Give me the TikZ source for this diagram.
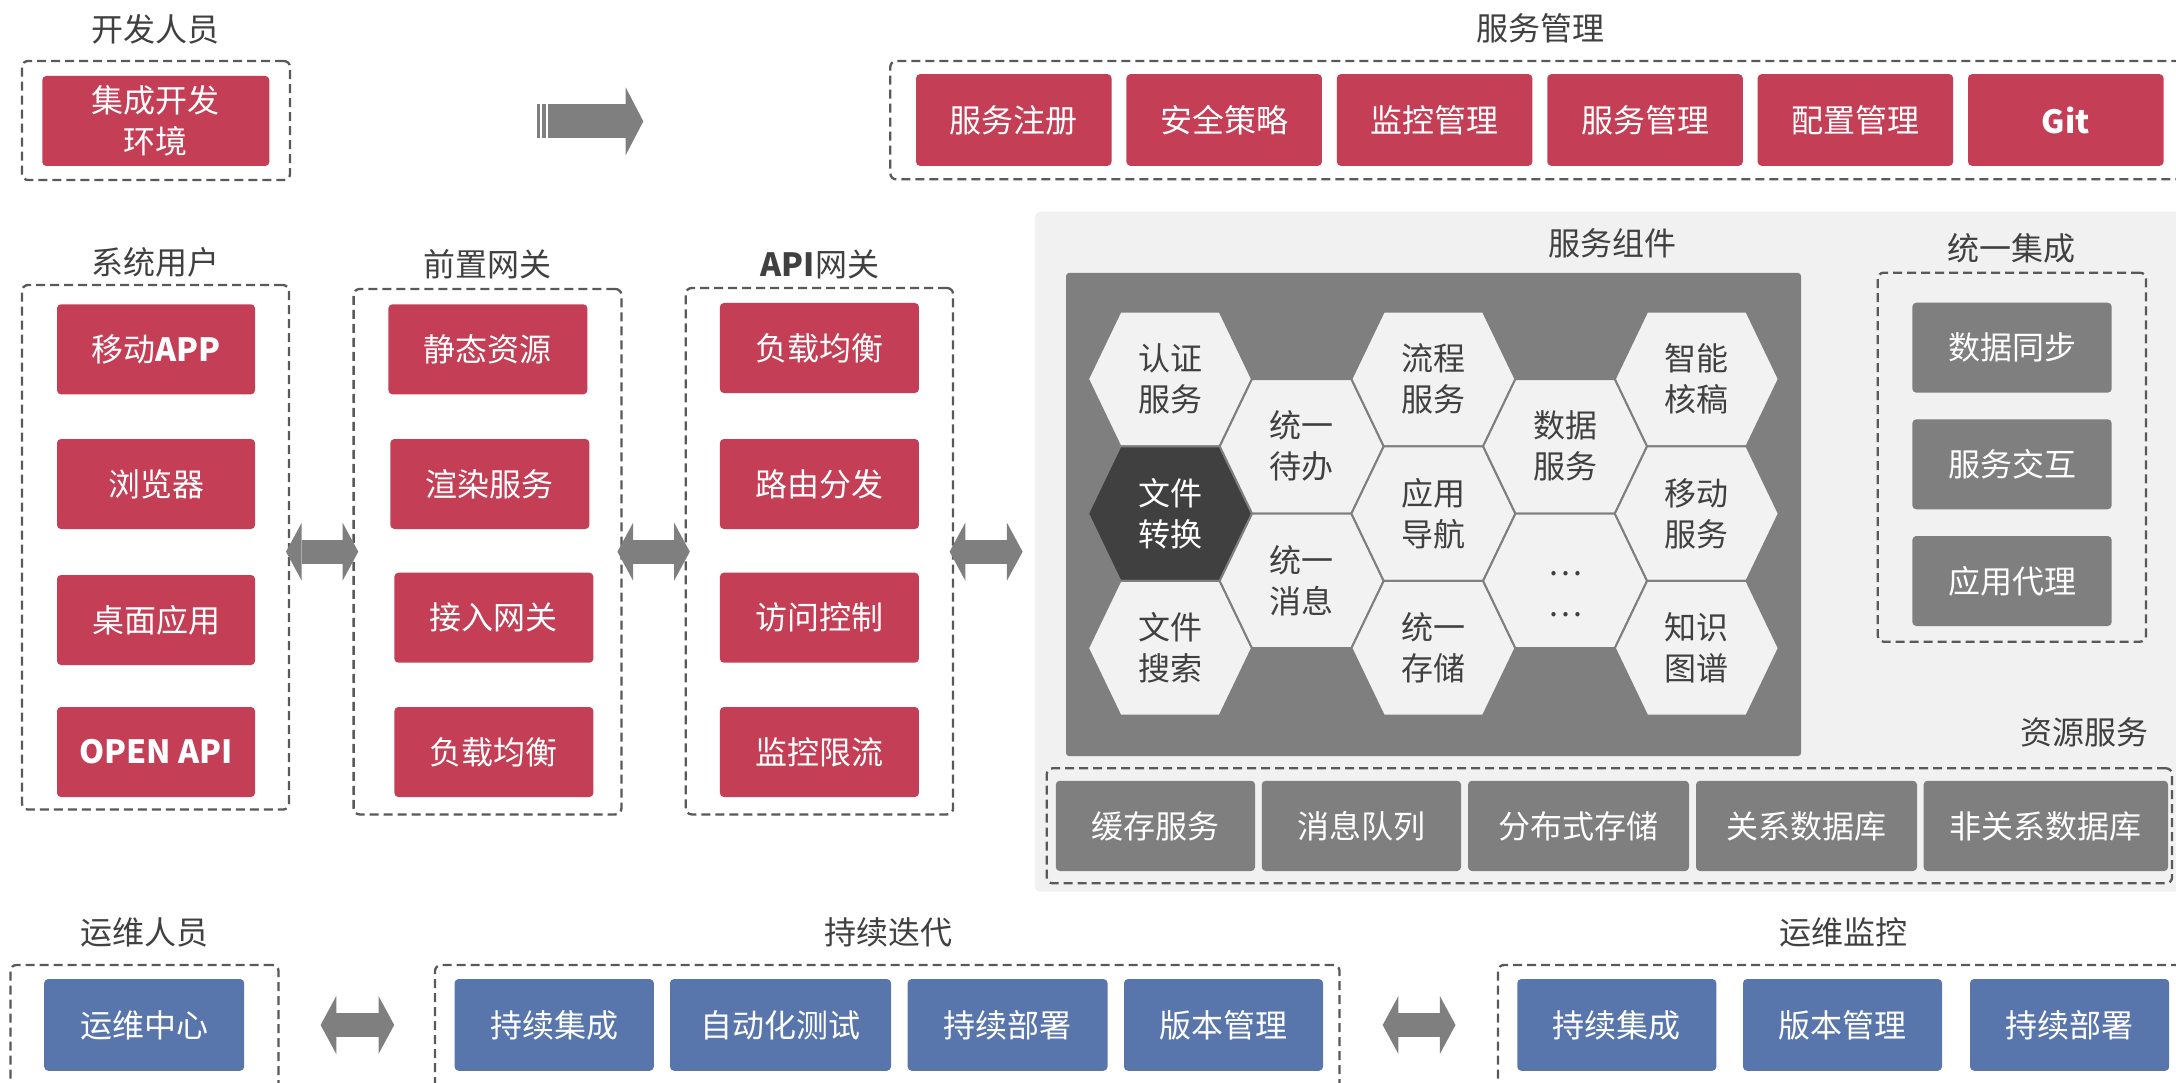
\documentclass[tikz,border=0pt]{standalone}
\usepackage{fontspec}
\setmainfont{Noto Sans CJK SC}
\usepackage{tikz}
\usetikzlibrary{positioning, arrows.meta}

\definecolor{boxred}{HTML}{C43E56}
\definecolor{boxblue}{HTML}{5976AC}
\definecolor{boxgray}{HTML}{7F7F7F}
\definecolor{hexdark}{HTML}{404040}
\definecolor{hexlight}{HTML}{F2F2F2}
\definecolor{panelbg}{HTML}{F1F1F1}
\definecolor{dashgray}{HTML}{595959}
\definecolor{titlegray}{HTML}{404040}

\tikzset{every node/.style={font=\fontsize{32}{41}\selectfont, inner sep=0pt, outer sep=0pt},
         grptitle/.style={text=titlegray},
         group/.style={draw=dashgray, line width=2.3pt, dash pattern=on 9pt off 5pt, rounded corners=6pt},
         redbox/.style={fill=boxred, text=white, rounded corners=4pt, align=center, minimum height=90pt},
         bluebox/.style={fill=boxblue, text=white, rounded corners=4pt, minimum height=91.7pt},
         graybox/.style={fill=boxgray, text=white, rounded corners=4pt, minimum height=90pt},
         hextext/.style={text=titlegray, align=center},
         dblarrow/.style={draw=boxgray, line width=24pt,
           {Triangle[length=15.7pt, width=58pt, line width=0pt]}-{Triangle[length=15.7pt, width=58pt, line width=0pt]}},
         onearrow/.style={draw=boxgray, line width=34pt,
           -{Triangle[length=17.6pt, width=67.7pt, line width=0pt]}}}

% one hexagon of the service grid, centred at (#1,#2)
\newcommand{\hexcell}[3]{%
  \filldraw[fill=#3, draw=boxgray, line width=2pt]
    (#1-82,#2) -- (#1-49.7,#2-67.3) -- (#1+49.7,#2-67.3) -- (#1+82,#2)
    -- (#1+49.7,#2+67.3) -- (#1-49.7,#2+67.3) -- cycle;}

\begin{document}
\begin{tikzpicture}[x=1pt, y=-1pt]

        \useasboundingbox (0,0) rectangle (2176,1083);
        \clip (0,0) rectangle (2176,1083);
        \fill[white] (0,0) rectangle (2176,1083);

        % Panels
        \fill[panelbg, rounded corners=6pt] (1035,211.7) rectangle (2200,891.7);
        \fill[boxgray, rounded corners=3pt] (1066,273) rectangle (1801,756);

        % Hexagons
        \hexcell{1170}{379}{hexlight}
        \hexcell{1170}{513.6}{hexdark}
        \hexcell{1170}{648.2}{hexlight}
        \hexcell{1301.7}{446.3}{hexlight}
        \hexcell{1301.7}{580.9}{hexlight}
        \hexcell{1433.4}{379}{hexlight}
        \hexcell{1433.4}{513.6}{hexlight}
        \hexcell{1433.4}{648.2}{hexlight}
        \hexcell{1565.1}{446.3}{hexlight}
        \hexcell{1565.1}{580.9}{hexlight}
        \hexcell{1696.8}{379}{hexlight}
        \hexcell{1696.8}{513.6}{hexlight}
        \hexcell{1696.8}{648.2}{hexlight}

        \node[hextext] (renzheng) at (1170,379) {认证\\服务};
        \node[hextext, text=white] (zhuanhuan) at (1170,513.6) {文件\\转换};
        \node[hextext] (sousuo) at (1170,648.2) {文件\\搜索};
        \node[hextext] (daiban) at (1301.7,446.3) {统一\\待办};
        \node[hextext] (xiaoxi) at (1301.7,580.9) {统一\\消息};
        \node[hextext] (liucheng) at (1433.4,379) {流程\\服务};
        \node[hextext] (daohang) at (1433.4,513.6) {应用\\导航};
        \node[hextext] (cunchu) at (1433.4,648.2) {统一\\存储};
        \node[hextext] (shuju) at (1565.1,446.3) {数据\\服务};
        \node[hextext] (gengduo) at (1565.1,594) {…\\…};
        \node[hextext] (hegao) at (1696.8,379) {智能\\核稿};
        \node[hextext] (yidong) at (1696.8,513.6) {移动\\服务};
        \node[hextext] (tupu) at (1696.8,648.2) {知识\\图谱};

        % Groups
        \node[group, minimum width=268pt, minimum height=119pt] (devgrp) at (156,120.5) {};
        \node[group, minimum width=1310pt, minimum height=118.3pt] (mgmtgrp) at (1545.3,120.2) {};
        \node[group, minimum width=267pt, minimum height=524.5pt] (users) at (155.5,547.3) {};
        \node[group, minimum width=267.8pt, minimum height=525.4pt] (pregw) at (487.5,551.7) {};
        \node[group, minimum width=267.3pt, minimum height=526.4pt] (apigw) at (819.4,551.2) {};
        \node[group, minimum width=268.3pt, minimum height=369pt] (integ) at (2011.9,457.2) {};
        \node[group, minimum width=1125.3pt, minimum height=115pt] (resgrp) at (1609.4,825.8) {};
        \node[group, minimum width=268pt, minimum height=130pt] (opsgrp) at (144.5,1030) {};
        \node[group, minimum width=904.5pt, minimum height=130pt] (cigrp) at (887.3,1030) {};
        \node[group, minimum width=702pt, minimum height=130pt] (mongrp) at (1849,1030) {};

        % Titles
        \node[grptitle] (t_dev) at (155,29) {开发人员};
        \node[grptitle] (t_mgmt) at (1540,28) {服务管理};
        \node[grptitle] (t_users) at (155,262) {系统用户};
        \node[grptitle] (t_pregw) at (487,264) {前置网关};
        \node[grptitle] (t_apigw) at (820,264) {{\bfseries API}网关};
        \node[grptitle] (t_comp) at (1612,243.5) {服务组件};
        \node[grptitle] (t_integ) at (2011.7,248.3) {统一集成};
        \node[grptitle] (t_res) at (2084.5,732) {资源服务};
        \node[grptitle] (t_ops) at (144.5,932.5) {运维人员};
        \node[grptitle] (t_ci) at (888,932.5) {持续迭代};
        \node[grptitle] (t_mon) at (1843.5,932.5) {运维监控};

        % Red boxes
        \node[redbox, minimum width=227pt] (ide) at (155.8,121) {集成开发\\环境};
        \node[redbox, minimum width=195.5pt, minimum height=91.7pt] (reg) at (1013.8,120) {服务注册};
        \node[redbox, minimum width=195.5pt, minimum height=91.7pt] (sec) at (1224.2,120) {安全策略};
        \node[redbox, minimum width=195.5pt, minimum height=91.7pt] (moni) at (1434.6,120) {监控管理};
        \node[redbox, minimum width=195.5pt, minimum height=91.7pt] (svc) at (1645,120) {服务管理};
        \node[redbox, minimum width=195.5pt, minimum height=91.7pt] (conf) at (1855.4,120) {配置管理};
        \node[redbox, minimum width=195.5pt, minimum height=91.7pt] (git) at (2065.8,120) {\bfseries Git};

        \node[redbox, minimum width=198pt] (app) at (156,349.3) {移动{\bfseries APP}};
        \node[redbox, minimum width=198pt] (browser) at (156,484) {浏览器};
        \node[redbox, minimum width=198pt] (desktop) at (156,620) {桌面应用};
        \node[redbox, minimum width=198pt] (openapi) at (156,752) {\bfseries OPEN API};

        \node[redbox, minimum width=199pt] (static) at (487.9,349.3) {静态资源};
        \node[redbox, minimum width=199pt] (render) at (489.9,484) {渲染服务};
        \node[redbox, minimum width=199pt] (access) at (493.9,617.7) {接入网关};
        \node[redbox, minimum width=199pt] (balance1) at (493.9,752) {负载均衡};

        \node[redbox, minimum width=199pt] (balance2) at (819.4,348) {负载均衡};
        \node[redbox, minimum width=199pt] (route) at (819.4,484) {路由分发};
        \node[redbox, minimum width=199pt] (acl) at (819.4,617.7) {访问控制};
        \node[redbox, minimum width=199pt] (limit) at (819.4,752) {监控限流};

        % Gray boxes
        \node[graybox, minimum width=199.4pt] (sync) at (2012,347.7) {数据同步};
        \node[graybox, minimum width=199.4pt] (interact) at (2012,464.3) {服务交互};
        \node[graybox, minimum width=199.4pt] (proxy) at (2012,581) {应用代理};

        \node[graybox, minimum width=199.3pt, minimum height=90.3pt] (cache) at (1155.4,825.9) {缓存服务};
        \node[graybox, minimum width=199.3pt, minimum height=90.3pt] (mq) at (1361.4,825.9) {消息队列};
        \node[graybox, minimum width=221pt, minimum height=90.3pt] (dfs) at (1578.5,825.9) {分布式存储};
        \node[graybox, minimum width=221pt, minimum height=90.3pt] (rdb) at (1806.5,825.9) {关系数据库};
        \node[graybox, minimum width=244.5pt, minimum height=90.3pt] (nosql) at (2045.8,825.9) {非关系数据库};

        % Blue boxes
        \node[bluebox, minimum width=200pt] (opscenter) at (144.2,1024.9) {运维中心};
        \node[bluebox, minimum width=199.2pt] (ci1) at (554.2,1024.9) {持续集成};
        \node[bluebox, minimum width=221pt] (test) at (780.5,1024.9) {自动化测试};
        \node[bluebox, minimum width=199.9pt] (cd1) at (1007.6,1024.9) {持续部署};
        \node[bluebox, minimum width=199pt] (ver1) at (1223.5,1024.9) {版本管理};
        \node[bluebox, minimum width=199.1pt] (ci2) at (1616.8,1024.9) {持续集成};
        \node[bluebox, minimum width=199pt] (ver2) at (1842.5,1024.9) {版本管理};
        \node[bluebox, minimum width=199.2pt] (cd2) at (2069.6,1024.9) {持续部署};

        % Arrows
        \coordinate (s0) at (548.3,121.3);
        \coordinate (s1) at (643.3,121.3);
        \fill[boxgray] (537.3,104.3) rectangle (539.6,138.3);
        \fill[boxgray] (541.7,104.3) rectangle (545.8,138.3);
        \draw[onearrow] (s0) -- (s1);

        \coordinate (a1w) at (286,551.7);
        \coordinate (a1e) at (358.3,551.7);
        \coordinate (a2w) at (617.4,551.7);
        \coordinate (a2e) at (689.8,551.7);
        \coordinate (a3w) at (949.6,551.7);
        \coordinate (a3e) at (1022.6,551.7);
        \coordinate (b1w) at (320.6,1025);
        \coordinate (b1e) at (394.2,1025);
        \coordinate (b2w) at (1382.7,1025);
        \coordinate (b2e) at (1455.5,1025);
        \draw[dblarrow] (a1w) -- (a1e);
        \draw[dblarrow] (a2w) -- (a2e);
        \draw[dblarrow] (a3w) -- (a3e);
        \draw[dblarrow] (b1w) -- (b1e);
        \draw[dblarrow] (b2w) -- (b2e);

\end{tikzpicture}
\end{document}
